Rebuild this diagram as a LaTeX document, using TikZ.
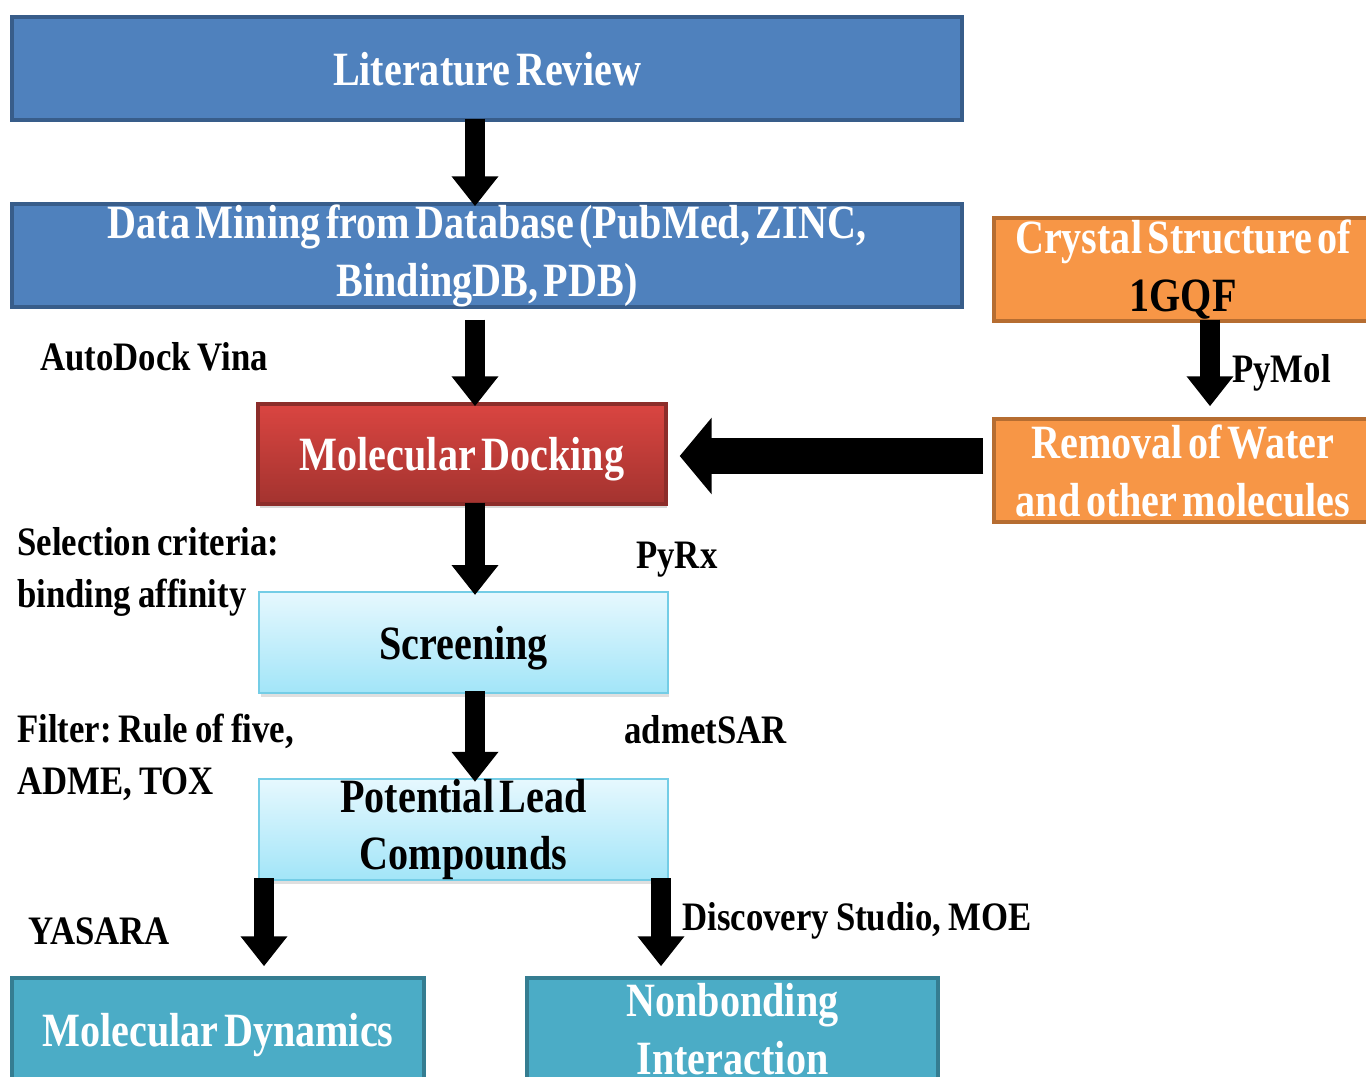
\documentclass[tikz,border=0pt]{standalone}
\usepackage{fontspec}
\setmainfont[FakeStretch=0.84,WordSpace=0.55]{Liberation Serif}
\newfontfamily\notefont[FakeStretch=0.86,WordSpace=0.8]{Liberation Serif}
\usetikzlibrary{arrows.meta,shadows}
\frenchspacing

\definecolor{blueFill}{HTML}{4F81BD}
\definecolor{blueLine}{HTML}{385D8A}
\definecolor{orangeFill}{HTML}{F79646}
\definecolor{orangeLine}{HTML}{B66D31}
\definecolor{redTop}{HTML}{DA4541}
\definecolor{redBottom}{HTML}{A3332F}
\definecolor{redLine}{HTML}{8C2D2A}
\definecolor{cyanTop}{HTML}{E6F8FE}
\definecolor{cyanBottom}{HTML}{A2E5F8}
\definecolor{cyanLine}{HTML}{74CDE6}
\definecolor{tealFill}{HTML}{4BACC6}
\definecolor{tealLine}{HTML}{357D91}

\tikzset{
  box/.style={draw, line width=0.07cm, inner sep=0pt, align=center,
    minimum height=2.06cm, font=\fontsize{27.2}{33}\selectfont\bfseries},
  oneline/.style={text depth=0pt},
  bluebox/.style={box, fill=blueFill, draw=blueLine, text=white, minimum width=19cm},
  orangebox/.style={box, fill=orangeFill, draw=orangeLine, text=white, minimum width=7.56cm},
  redbox/.style={box, top color=redTop, bottom color=redBottom, draw=redLine, text=white,
    minimum width=8.16cm, minimum height=2cm,
    drop shadow={opacity=0.3, shadow xshift=0.03cm, shadow yshift=-0.08cm}},
  cyanbox/.style={box, top color=cyanTop, bottom color=cyanBottom, draw=cyanLine, text=black,
    line width=0.04cm, minimum width=8.18cm, minimum height=2.02cm,
    drop shadow={opacity=0.25, shadow xshift=0.03cm, shadow yshift=-0.08cm}},
  tealbox/.style={box, fill=tealFill, draw=tealLine, text=white, minimum width=8.24cm},
  note/.style={anchor=west, inner sep=0pt, align=left,
    font=\notefont\fontsize{23}{29.5}\selectfont\bfseries},
  blockarrow/.style={line width=0.4cm, -{Triangle[width=0.9cm,length=0.6cm]},
    shorten <=-0.06cm, shorten >=-0.08cm},
  widearrow/.style={line width=0.72cm, -{Triangle[width=1.5cm,length=0.64cm]}}
}

\begin{document}
\begin{tikzpicture}[x=0.02cm, y=-0.02cm]
  \useasboundingbox (0,0) rectangle (1366,1077);
  \clip (0,0) rectangle (1366,1077);

  % main column
  \node[bluebox, oneline] (lit) at (487,68.5) {Literature Review};
  \node[bluebox] (mine) at (487,255.5) {Data Mining from Database (PubMed, ZINC,\\ BindingDB, PDB)};
  \node[redbox, oneline] (dock) at (462,454) {Molecular Docking};
  \node[cyanbox, oneline] (screen) at (463.5,642.5) {Screening};
  \node[cyanbox] (lead) at (463.5,829.5) {Potential Lead\\ Compounds};
  \node[tealbox, oneline] (md) at (218,1029.5) {Molecular Dynamics};
  \node[tealbox, minimum width=8.22cm] (nb) at (732.5,1029.5) {Nonbonding\\ Interaction};

  % protein side
  \node[orangebox] (crystal) at (1183,269.5) {Crystal Structure of\\ \textcolor{black}{1GQF}};
  \node[orangebox] (water) at (1183,470.5) {Removal of Water\\ and other molecules};

  % tools and criteria
  \node[note] (vina) at (40,357) {AutoDock Vina};
  \node[note] (pymol) at (1232,373) {PyMol};
  \node[note] (crit) at (17,572) {Selection criteria:\\ binding affinity};
  \node[note] (pyrx) at (636,560) {PyRx};
  \node[note] (filt) at (17,757) {Filter: Rule of five,\\ ADME, TOX};
  \node[note] (admet) at (624,730) {admetSAR};
  \node[note] (yasara) at (28,931) {YASARA};
  \node[note] (ds) at (682,921) {Discovery Studio, MOE};

  % arrows
  \coordinate (spine) at (475,0);
  \coordinate (lspine) at (264,0);
  \coordinate (rspine) at (661,0);
  \coordinate (pspine) at (1210,0);
  \coordinate (hline) at (0,456);
  \draw[blockarrow] (lit.south -| spine) -- (mine.north -| spine);
  \draw[blockarrow, shorten <=0.22cm] (mine.south -| spine) -- (dock.north -| spine);
  \draw[blockarrow] (dock.south -| spine) -- (screen.north -| spine);
  \draw[blockarrow] (screen.south -| spine) -- (lead.north -| spine);
  \draw[blockarrow, shorten >=0.2cm] (lead.south -| lspine) -- (md.north -| lspine);
  \draw[blockarrow, shorten >=0.2cm] (lead.south -| rspine) -- (nb.north -| rspine);
  \draw[blockarrow, shorten >=0.22cm] (crystal.south -| pspine) -- (water.north -| pspine);
  \draw[widearrow, shorten <=0.18cm, shorten >=0.24cm] (water.west |- hline) -- (dock.east |- hline);
\end{tikzpicture}
\end{document}
